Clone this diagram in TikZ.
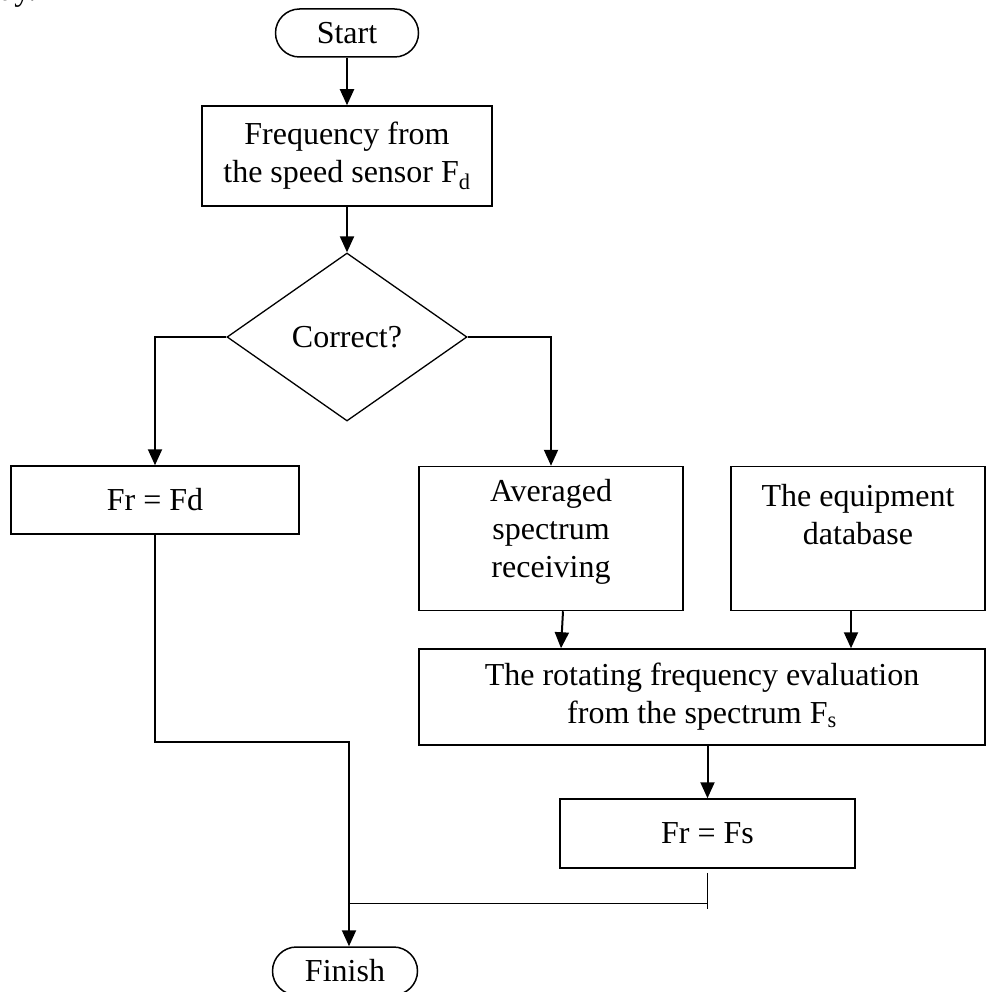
\documentclass[tikz,border=0pt]{standalone}
\usepackage{fontspec}
\setmainfont{Liberation Serif}
\usetikzlibrary{shapes.geometric,arrows.meta}

\begin{document}
\begin{tikzpicture}[x=1pt,y=-1pt,
  txt/.style={font=\fontsize{32}{38}\selectfont},
  box/.style={txt,draw,line width=1.5pt,inner sep=0pt,align=center},
  term/.style={box,rounded corners=24pt},
  decide/.style={txt,diamond,draw,line width=1.3pt,inner sep=0pt},
  flow/.style={line width=2pt,->,>={Triangle[length=16pt,width=14pt]}}]
\useasboundingbox (0,0) rectangle (986,992);
\begin{scope}
\clip (0,0) rectangle (986,992);
\node[txt,anchor=base west,inner sep=0pt] (day) at (-16,1) {day.};
\end{scope}
\node[term,minimum width=143pt,minimum height=48pt] (start) at (347,33) {Start};
\node[box,minimum width=290pt,minimum height=100pt] (freq) at (347,156) {Frequency from\\the speed sensor F\textsubscript{d}};
\node[decide,minimum width=240pt,minimum height=168pt] (dec) at (347,337) {Correct?};
\node[box,minimum width=288pt,minimum height=68pt] (frd) at (155,500) {Fr = Fd};
\node[box,minimum width=264pt,minimum height=144pt] (avg) at (551,538.5) {Averaged\\spectrum\\receiving\\[-30pt]\strut};
\node[box,minimum width=254pt,minimum height=144pt] (equip) at (858,538.5) {The equipment\\database\\[-2pt]\strut};
\node[box,minimum width=566pt,minimum height=96pt] (rot) at (702,697) {The rotating frequency evaluation\\from the spectrum F\textsubscript{s}};
\node[box,minimum width=295pt,minimum height=69pt] (frs) at (707.5,833.5) {Fr = Fs};
\node[term,minimum width=145pt,minimum height=48pt] (fin) at (345,971) {Finish};
\coordinate (jn) at (349,742);
\draw [flow] (start) -- (freq);
\draw [flow] (freq) -- (dec);
\draw [flow] (dec.west) -| (frd.north);
\draw [flow] (dec.east) -| (avg.north);
\draw [flow] ([xshift=12pt]avg.south) -- ([xshift=10pt]avg.south |- rot.north);
\draw [flow] ([xshift=-7pt]equip.south) -- ([xshift=-7pt]equip.south |- rot.north);
\draw [flow] (rot.south -| frs.north) -- (frs.north);
\draw [flow] (frd.south) |- (jn) -- (jn |- fin.north);
\draw [line width=1.2pt] ([yshift=-4pt]frs.south) -- ([yshift=-40pt]frs.south);
\draw [line width=1pt] (jn |- 0,903) -- (frs.south |- 0,903);
\end{tikzpicture}
\end{document}
